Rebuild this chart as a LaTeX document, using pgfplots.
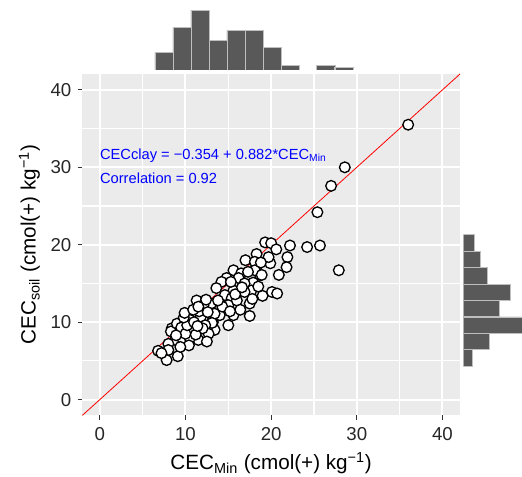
\documentclass[border=0pt]{standalone}
\usepackage{fontspec}
\setmainfont{Liberation Sans}
\usepackage{pgfplots}
\pgfplotsset{compat=1.18}
\definecolor{ggbg}{HTML}{EBEBEB}
\definecolor{histfill}{HTML}{595959}
\definecolor{tickc}{HTML}{333333}
\begin{document}
\begin{tikzpicture}
\useasboundingbox (-61.7pt,-46.1pt) rectangle (329.8pt,311.6pt);
% main panel
\begin{axis}[
  name=main, at={(0,0)}, anchor=south west,
  scale only axis, width=283.3pt, height=256.1pt,
  xmin=-2.05, xmax=42.05, ymin=-2.05, ymax=42.05,
  enlargelimits=false,
  axis background/.style={fill=ggbg},
  axis line style={draw=none},
  xtick={0,10,20,30,40}, ytick={0,10,20,30,40},
  minor xtick={5,15,25,35}, minor ytick={5,15,25,35},
  minor tick length=0pt,
  grid=both,
  major grid style={white, line width=1.5pt},
  minor grid style={white, line width=0.9pt},
  tick pos=left, tick align=outside,
  major tick length=3.2pt,
  tick style={tickc, line width=0.9pt},
  /pgf/number format/assume math mode=true,
  ticklabel style={font=\fontsize{14}{16}\selectfont, text=black!85},
  xticklabel style={yshift=-2pt},
  yticklabel style={xshift=-1.5pt},
  xlabel={CEC\textsubscript{Min} (cmol(+) kg\textsuperscript{−1})},
  ylabel={CEC\textsubscript{soil} (cmol(+) kg\textsuperscript{−1})},
  label style={font=\fontsize{15.5}{17}\selectfont},
  xlabel style={yshift=-2.5pt},
  ylabel style={yshift=1pt},
]
\addplot[only marks, mark=*, mark size=4pt,
  mark options={fill=white, draw=black, line width=1pt}] table {
x y
36.0 35.5
28.6 30.0
27.0 27.6
25.4 24.2
24.2 19.7
25.7 19.9
27.9 16.7
19.3 20.3
20.0 20.2
20.6 19.4
22.2 19.9
21.9 18.4
21.8 17.1
20.9 16.1
19.9 17.6
19.7 18.4
18.3 18.8
18.3 17.2
18.7 16.1
17.9 15.1
20.1 13.9
20.7 13.7
19.0 13.4
17.7 14.1
17.0 18.0
18.1 17.8
18.1 16.7
15.6 16.7
16.5 16.3
14.8 15.7
16.2 15.7
14.2 15.2
13.6 14.4
15.6 14.1
16.9 15.0
16.9 13.9
14.6 13.5
15.4 13.1
17.5 12.4
11.3 12.8
13.0 12.4
15.0 12.2
12.1 12.2
14.0 10.9
13.2 10.0
12.1 10.7
15.6 10.9
15.0 9.6
17.5 10.8
13.4 9.0
12.3 8.5
11.5 7.7
13.4 11.1
11.8 10.7
10.5 10.3
13.1 9.9
12.3 9.6
8.4 9.2
9.3 8.7
10.7 9.0
8.8 7.7
9.7 7.7
8.0 7.2
10.5 7.9
12.7 8.5
12.5 7.5
6.8 6.3
8.0 6.4
9.1 5.6
7.8 5.1
8.3 8.8
7.2 6.0
9.0 9.8
9.5 9.3
10.0 8.5
10.2 9.6
9.8 10.6
10.4 7.0
9.4 6.8
9.9 11.2
8.9 8.3
11.0 10.0
11.6 11.4
12.0 9.2
12.6 11.3
11.2 8.4
10.9 11.6
12.4 12.9
11.4 9.5
14.3 12.0
13.8 12.8
15.3 15.2
16.0 12.8
16.4 11.6
15.8 13.6
16.6 14.5
15.2 11.4
17.3 16.5
18.5 14.6
17.8 13.0
18.8 17.7
11.5 12.0
18.9 16.1
};
\addplot[red, line width=0.6pt] coordinates {(-2.05,-2.05) (42.05,42.05)};
\node[anchor=west, inner sep=0pt, text=blue, font=\fontsize{11}{13}\selectfont]
  at (axis cs:0,31.5) {CECclay = −0.354 + 0.882*CEC\textsubscript{Min}};
\node[anchor=west, inner sep=0pt, text=blue, font=\fontsize{11}{13}\selectfont]
  at (axis cs:0,28.6) {Correlation = 0.92};
\end{axis}
% top marginal histogram
\begin{axis}[
  at={(0,259.1pt)}, anchor=south west,
  scale only axis, width=283.3pt, height=45pt,
  xmin=-2.05, xmax=42.05, ymin=0, ymax=24.1,
  enlargelimits=false, hide axis,
  ybar, bar width=2.12,
]
\addplot[fill=histfill, draw=black!25, line width=0.6pt] coordinates {
(7.5,7) (9.6,17) (11.7,24) (13.8,12) (15.9,16) (18.0,16) (20.1,9) (22.2,2) (26.4,2) (28.5,1)};
\end{axis}
% right marginal histogram
\begin{axis}[
  at={(285.9pt,0)}, anchor=south west,
  scale only axis, width=43.9pt, height=256.1pt,
  xmin=0, xmax=58.5, ymin=-2.05, ymax=42.05,
  enlargelimits=false, hide axis,
  xbar, bar width=2.12,
]
\addplot[fill=histfill, draw=black!25, line width=0.6pt] coordinates {
(8.8,5.37) (25.8,7.49) (70,9.61) (36.2,11.74) (47.2,13.86) (23.5,15.98) (17.2,18.10) (10.5,20.22)};
\end{axis}
\end{tikzpicture}
\end{document}
